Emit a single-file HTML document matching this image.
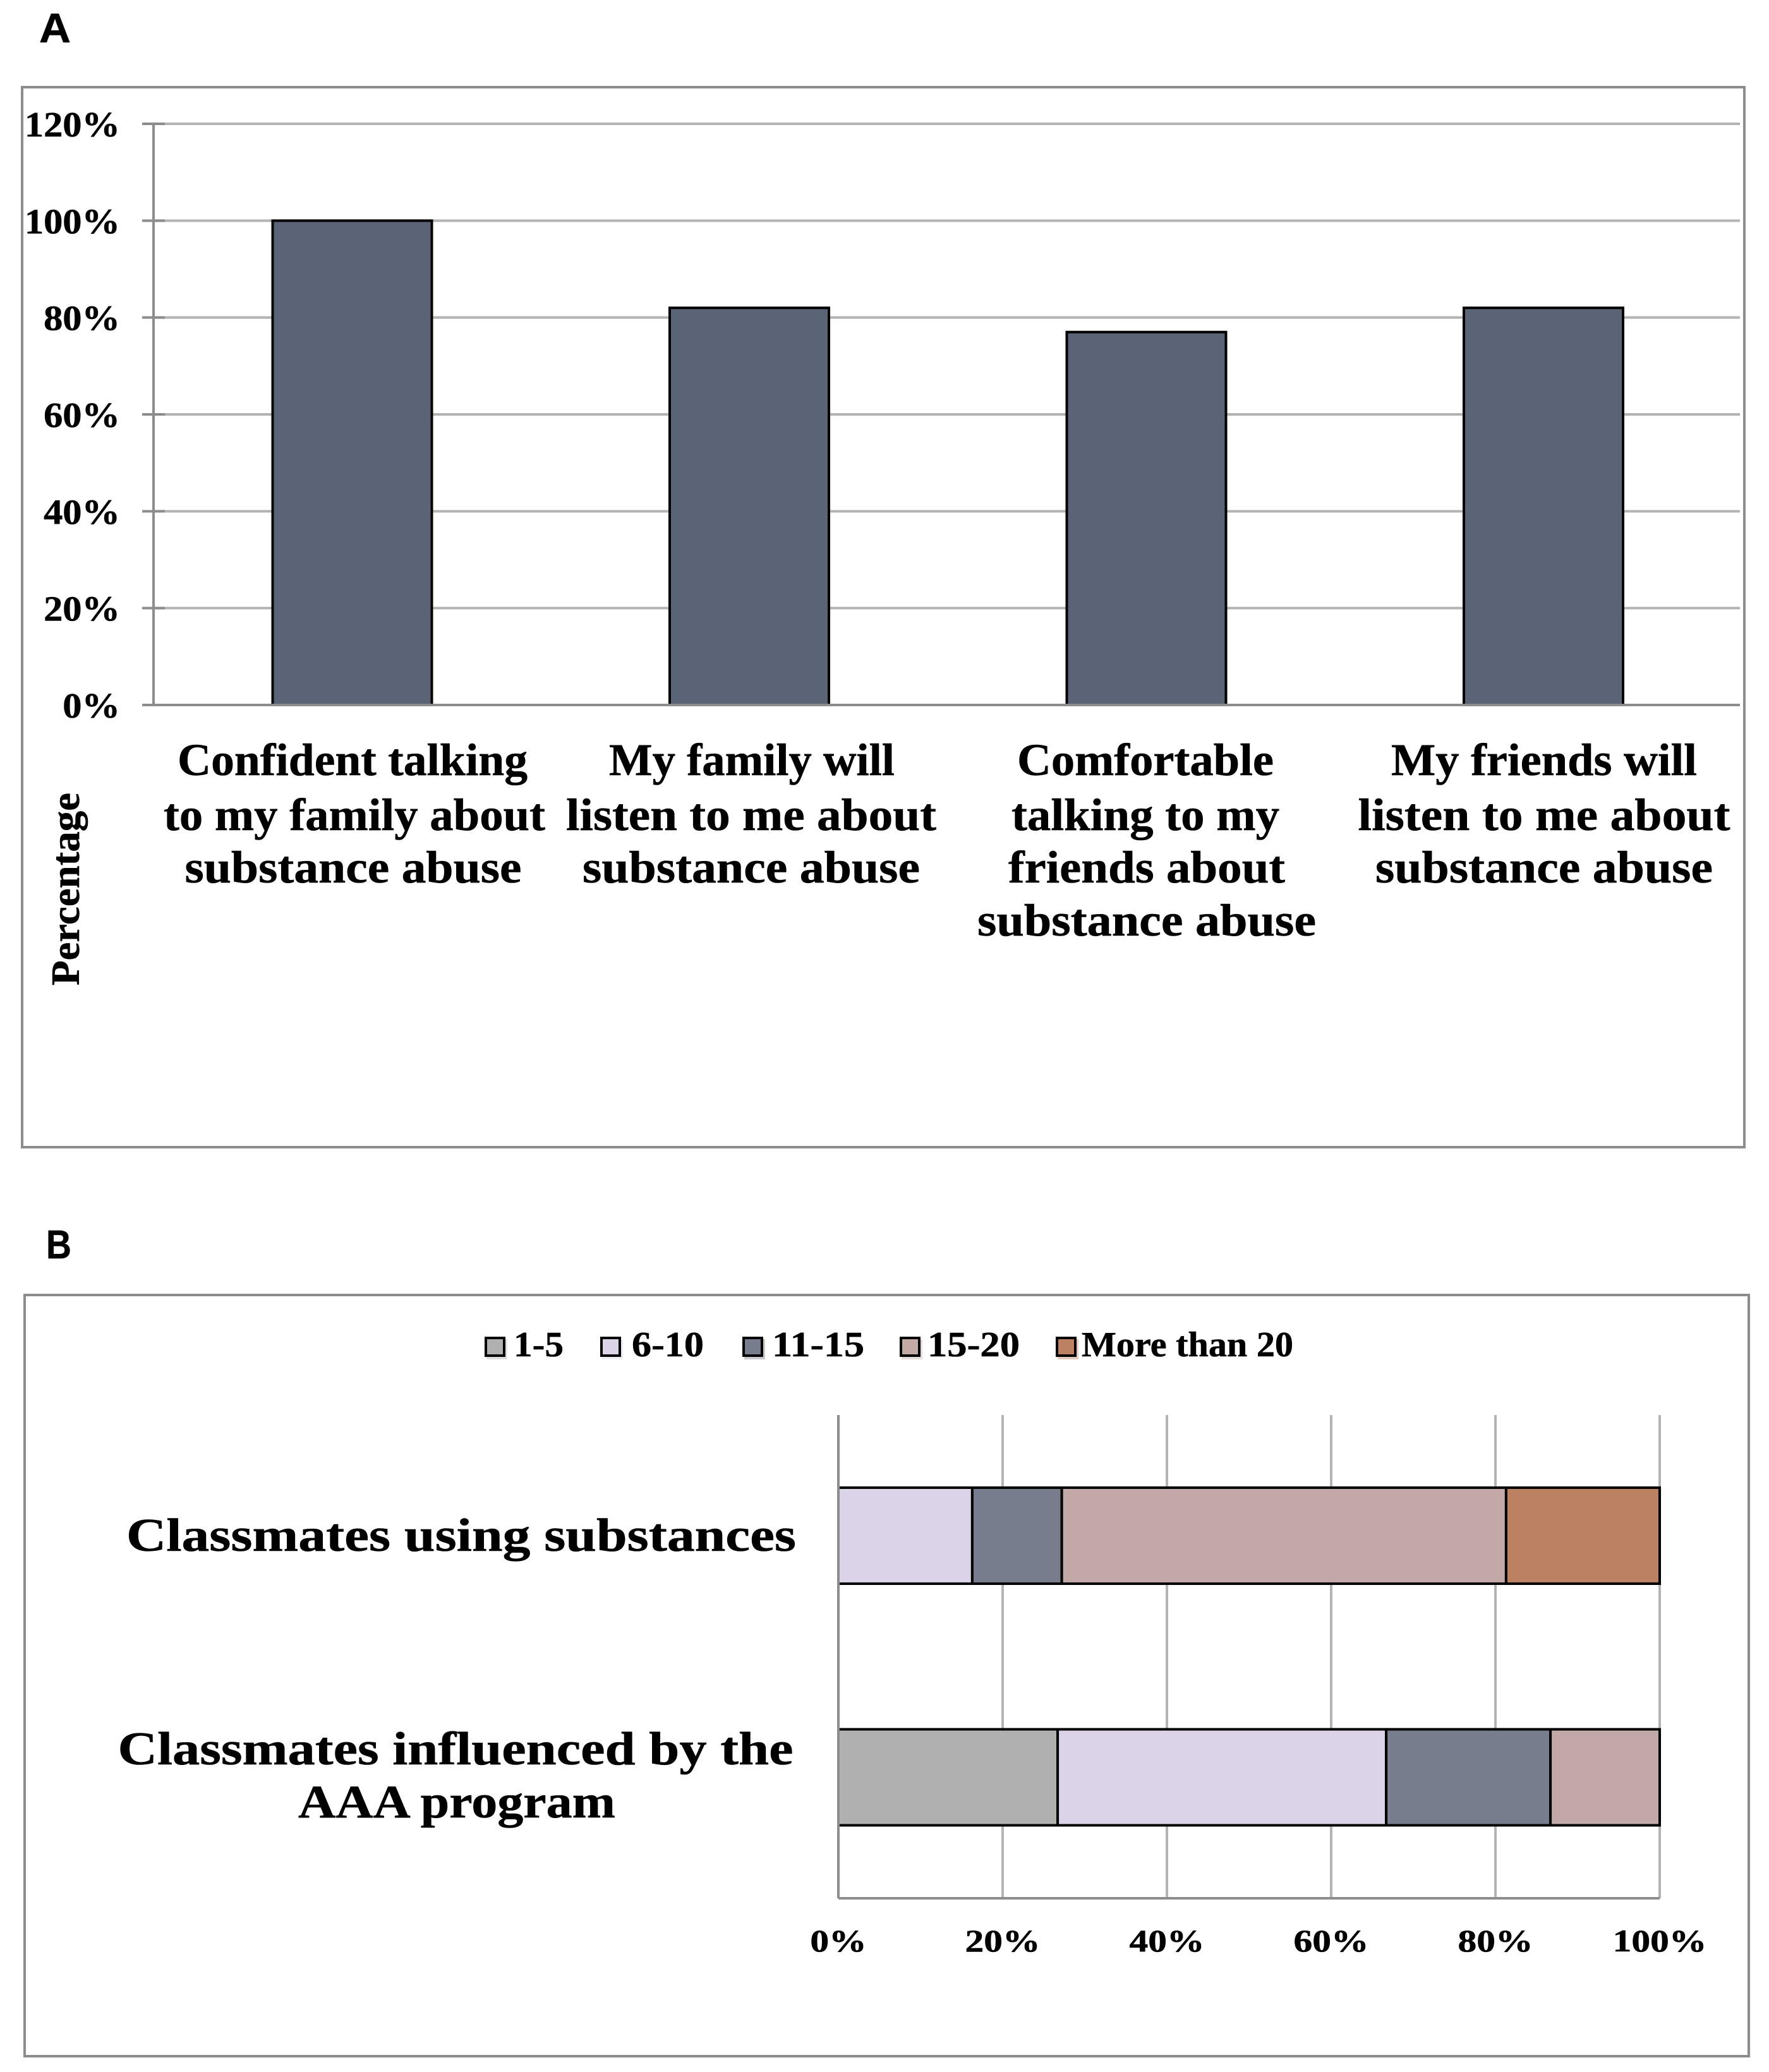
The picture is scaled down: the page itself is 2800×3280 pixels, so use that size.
<!DOCTYPE html>
<html lang="en">
<head>
<meta charset="utf-8">
<title>Substance abuse survey charts</title>
<style>
  html, body { margin: 0; padding: 0; background: #fff; }
  svg { display: block; }
  text { font-family: "Liberation Serif", serif; font-weight: 700; fill: #000; stroke: #000; stroke-width: 0.6; }
  .panel-label { font-family: "Liberation Sans", sans-serif; }
  .cat { font-size: 72px; text-anchor: middle; }
  .cat-b { font-size: 74px; text-anchor: middle; }
  .leg { font-size: 56px; }
  .panel { fill: #fff; stroke: #8c8c8c; stroke-width: 4; }
  .grid { stroke: #b3b3b3; stroke-width: 4; }
  .axis { stroke: #8c8c8c; stroke-width: 4; }
  .sw { stroke: #000; stroke-width: 4; }
  .s0 { fill: #b0b0b0; }
  .s1 { fill: #dbd3e8; }
  .s2 { fill: #777d8c; }
  .s3 { fill: #c3a8a8; }
  .s4 { fill: #bb8160; }
</style>
</head>
<body>
<svg id="figure" xmlns="http://www.w3.org/2000/svg" width="2800" height="3280" viewBox="0 0 2800 3280">
  <rect x="0" y="0" width="2800" height="3280" fill="#fff"/>

  <text class="panel-label" x="62" y="67" font-size="66" textLength="50" lengthAdjust="spacingAndGlyphs">A</text>
  <rect class="panel" x="35" y="138" width="2726" height="1678"/>
  <g id="chart-a"></g>

  <text class="y-title" transform="translate(125,1560) rotate(-90)" font-size="64" textLength="305" lengthAdjust="spacingAndGlyphs">Percentage</text>

  <g>
    <text class="cat" x="558" y="1227" textLength="554" lengthAdjust="spacingAndGlyphs">Confident talking</text>
    <text class="cat" x="561" y="1314" textLength="604" lengthAdjust="spacingAndGlyphs">to my family about</text>
    <text class="cat" x="559" y="1397" textLength="533" lengthAdjust="spacingAndGlyphs">substance abuse</text>

    <text class="cat" x="1190" y="1227" textLength="452" lengthAdjust="spacingAndGlyphs">My family will</text>
    <text class="cat" x="1189" y="1314" textLength="586" lengthAdjust="spacingAndGlyphs">listen to me about</text>
    <text class="cat" x="1189" y="1397" textLength="534" lengthAdjust="spacingAndGlyphs">substance abuse</text>

    <text class="cat" x="1813" y="1227" textLength="406" lengthAdjust="spacingAndGlyphs">Comfortable</text>
    <text class="cat" x="1813" y="1314" textLength="424" lengthAdjust="spacingAndGlyphs">talking to my</text>
    <text class="cat" x="1815" y="1397" textLength="438" lengthAdjust="spacingAndGlyphs">friends about</text>
    <text class="cat" x="1815" y="1481" textLength="536" lengthAdjust="spacingAndGlyphs">substance abuse</text>

    <text class="cat" x="2444" y="1227" textLength="484" lengthAdjust="spacingAndGlyphs">My friends will</text>
    <text class="cat" x="2444" y="1314" textLength="589" lengthAdjust="spacingAndGlyphs">listen to me about</text>
    <text class="cat" x="2444" y="1397" textLength="534" lengthAdjust="spacingAndGlyphs">substance abuse</text>
  </g>

  <text class="panel-label" x="73" y="1992" font-size="64" textLength="40" lengthAdjust="spacingAndGlyphs">B</text>
  <rect class="panel" x="39" y="2050" width="2729" height="1205"/>

  <g>
    <rect class="s0" x="770" y="2120" width="33" height="32" opacity="0.4"/>
    <rect class="s0 sw" x="769" y="2118" width="29" height="28"/>
    <text class="leg" x="813" y="2147" textLength="79" lengthAdjust="spacingAndGlyphs">1-5</text>
    <rect class="s1" x="953" y="2120" width="33" height="32" opacity="0.4"/>
    <rect class="s1 sw" x="952" y="2118" width="29" height="28"/>
    <text class="leg" x="1000" y="2147" textLength="114" lengthAdjust="spacingAndGlyphs">6-10</text>
    <rect class="s2" x="1178" y="2120" width="33" height="32" opacity="0.4"/>
    <rect class="s2 sw" x="1177" y="2118" width="29" height="28"/>
    <text class="leg" x="1222" y="2147" textLength="146" lengthAdjust="spacingAndGlyphs">11-15</text>
    <rect class="s3" x="1427" y="2120" width="33" height="32" opacity="0.4"/>
    <rect class="s3 sw" x="1426" y="2118" width="29" height="28"/>
    <text class="leg" x="1468" y="2147" textLength="146" lengthAdjust="spacingAndGlyphs">15-20</text>
    <rect class="s4" x="1674" y="2120" width="33" height="32" opacity="0.4"/>
    <rect class="s4 sw" x="1673" y="2118" width="29" height="28"/>
    <text class="leg" x="1712" y="2147" textLength="335" lengthAdjust="spacingAndGlyphs">More than 20</text>
  </g>

  <g id="chart-b"></g>

  <g>
    <text class="cat-b" x="730" y="2455" textLength="1060" lengthAdjust="spacingAndGlyphs">Classmates using substances</text>
    <text class="cat-b" x="721" y="2793" textLength="1069" lengthAdjust="spacingAndGlyphs">Classmates influenced by the</text>
    <text class="cat-b" x="723" y="2877" textLength="502" lengthAdjust="spacingAndGlyphs">AAA program</text>
  </g>
</svg>

<script>
// Panel A data
const categoriesA = ['confident-family', 'family-will-listen', 'comfortable-friends', 'friends-will-listen'];
const valuesA = [100, 82, 77, 82];
const yTicksA = [0, 20, 40, 60, 80, 100, 120];
const yTickLabelsA = ['0%', '20%', '40%', '60%', '80%', '100%', '120%'];

// Panel B data
const seriesNamesB = ['1-5', '6-10', '11-15', '15-20', 'more-than-20'];
const classmatesUsing = [0, 16.3, 10.9, 54.1, 18.7];
const classmatesInfluenced = [26.7, 40, 20, 13.3, 0];
const xTicksB = [0, 20, 40, 60, 80, 100];
const xTickLabelsB = ['0%', '20%', '40%', '60%', '80%', '100%'];

const NS = 'http://www.w3.org/2000/svg';
function mk(tag, attrs, parent) {
  const el = document.createElementNS(NS, tag);
  for (const k in attrs) el.setAttribute(k, attrs[k]);
  parent.appendChild(el);
  return el;
}

// Axis functions
const yA = v => 1116 - v * (920 / 120);
const xCenterA = i => 557.5 + 628.5 * i;
const xB = v => 1327 + v * 13;
const yCenterB = i => 2431 + 382.5 * i;

// Panel A
const a = document.getElementById('chart-a');
yTicksA.forEach((t, i) => {
  if (t === 0) return;
  const g = mk('line', { class: 'grid', x1: 243, x2: 2754, y1: yA(t), y2: yA(t) }, a);
  
  
});
valuesA.forEach((v, i) => {
  const b = mk('rect', { x: xCenterA(i) - 126, y: yA(v), width: 252, height: yA(0) - yA(v), fill: '#5b6377', stroke: '#000', 'stroke-width': 4 }, a);
  
  
});
const axisYA = mk('line', { class: 'axis', x1: 243, x2: 243, y1: yA(120), y2: yA(0) }, a);


const axisXA = mk('line', { class: 'axis', x1: 225, x2: 2754, y1: yA(0), y2: yA(0) }, a);


yTicksA.forEach((t, i) => {
  const m = mk('line', { class: 'axis', x1: 225, x2: 261, y1: yA(t), y2: yA(t) }, a);
  
  
  const l = mk('text', { transform: 'translate(190,' + (yA(t) + 20) + ') scale(1.08,1)', 'font-size': 56, 'text-anchor': 'end' }, a);
  l.textContent = yTickLabelsA[i];
  
  
});

// Panel B
const b = document.getElementById('chart-b');
xTicksB.forEach(t => {
  if (t === 0) return;
  const g = mk('line', { class: 'grid', x1: xB(t), x2: xB(t), y1: 2240, y2: 3005 }, b);
  
  
});
[classmatesUsing, classmatesInfluenced].forEach((row, r) => {
  let cum = 0;
  row.forEach((v, s) => {
    if (v > 0) {
      const seg = mk('rect', { class: 's' + s, x: xB(cum), y: yCenterB(r) - 76, width: xB(cum + v) - xB(cum), height: 152, stroke: '#000', 'stroke-width': 4 }, b);
      
      
    }
    cum += v;
  });
});
const axisYB = mk('line', { class: 'axis', x1: xB(0), x2: xB(0), y1: 2240, y2: 3005 }, b);


const axisXB = mk('line', { class: 'axis', x1: xB(0), x2: xB(100), y1: 3005, y2: 3005 }, b);


xTicksB.forEach((t, i) => {
  const l = mk('text', { transform: 'translate(' + xB(t) + ',3089) scale(1.19,1)', 'font-size': 50, 'text-anchor': 'middle' }, b);
  l.textContent = xTickLabelsB[i];
  
  
});
</script>
</body>
</html>
